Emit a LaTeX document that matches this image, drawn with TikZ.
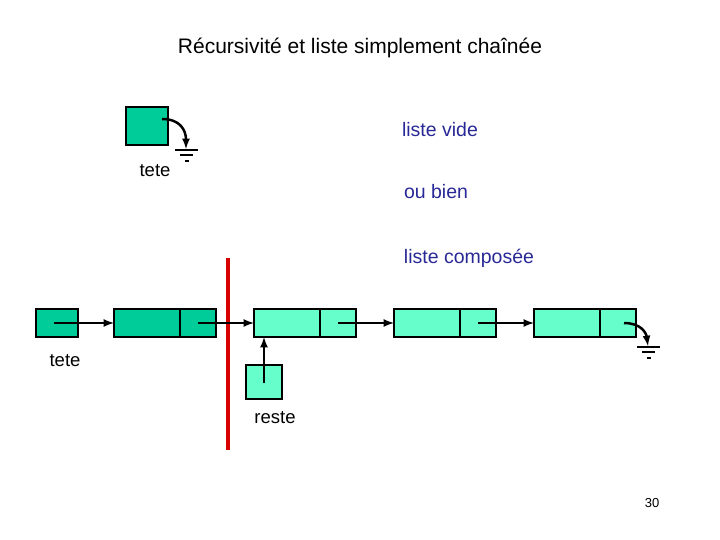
\documentclass[tikz,border=0pt]{standalone}
\usepackage{fontspec}
\setmainfont{Liberation Sans}
\begin{document}
\begin{tikzpicture}[x=1pt,y=-1pt,
  dg/.style={fill={rgb,255:red,0;green,204;blue,153},draw=black,line width=2pt},
  lg/.style={fill={rgb,255:red,102;green,255;blue,204},draw=black,line width=2pt},
  ptr/.style={line width=2.5pt,-latex},
  blu/.style={text={rgb,255:red,40;green,40;blue,150},font=\fontsize{19.5}{22}\selectfont},
  lab/.style={font=\fontsize{18.5}{20}\selectfont}]
\useasboundingbox (0,0) rectangle (720,540);
\node[font=\fontsize{21}{24}\selectfont] (title) at (360,48) {Récursivité et liste simplement chaînée};
% empty list
\node[dg,minimum width=42pt,minimum height=38pt,inner sep=0pt] (t0) at (147,126) {};
\coordinate (g0) at (186,149);
\draw[ptr] (162,119) .. controls (180,119) and (186,130) .. (g0);
\draw[line width=2.2pt] (175,150)--(198,150) (180,155)--(193,155) (185,161)--(189,161);
\node[lab] (tete0) at (155,171) {tete};
\node[blu] (lv) at (440,130) {liste vide};
\node[blu] (ob) at (436,192) {ou bien};
\node[blu] (lc) at (469,258) {liste composée};
% composed list
\node[dg,minimum width=42pt,minimum height=28pt,inner sep=0pt] (t1) at (57,323) {};
\node[lab] (tete1) at (65,361) {tete};
\draw[dg] (114,309) rectangle (216,337); \draw[line width=2pt] (180,309)--(180,337);
\draw[lg] (254,309) rectangle (356,337); \draw[line width=2pt] (320,309)--(320,337);
\draw[lg] (394,309) rectangle (496,337); \draw[line width=2pt] (460,309)--(460,337);
\draw[lg] (534,309) rectangle (636,337); \draw[line width=2pt] (600,309)--(600,337);
\draw[line width=4pt,red!85!black] (228,258)--(228,450);
\draw[ptr] (54,323)--(114,323);
\draw[ptr] (198,323)--(254,323);
\draw[ptr] (338,323)--(394,323);
\draw[ptr] (478,323)--(534,323);
\draw[ptr] (624,323) .. controls (640,323) and (646,332) .. (648,346);
\draw[line width=2.2pt] (637,347)--(660,347) (642,352)--(655,352) (647,358)--(651,358);
\node[lg,minimum width=36pt,minimum height=34pt,inner sep=0pt] (r) at (264,382) {};
\draw[ptr] (264,383)--(264,337);
\node[lab] (reste) at (275,418) {reste};
\node[font=\fontsize{13}{15}\selectfont] (pg) at (652,503) {30};
\end{tikzpicture}
\end{document}
